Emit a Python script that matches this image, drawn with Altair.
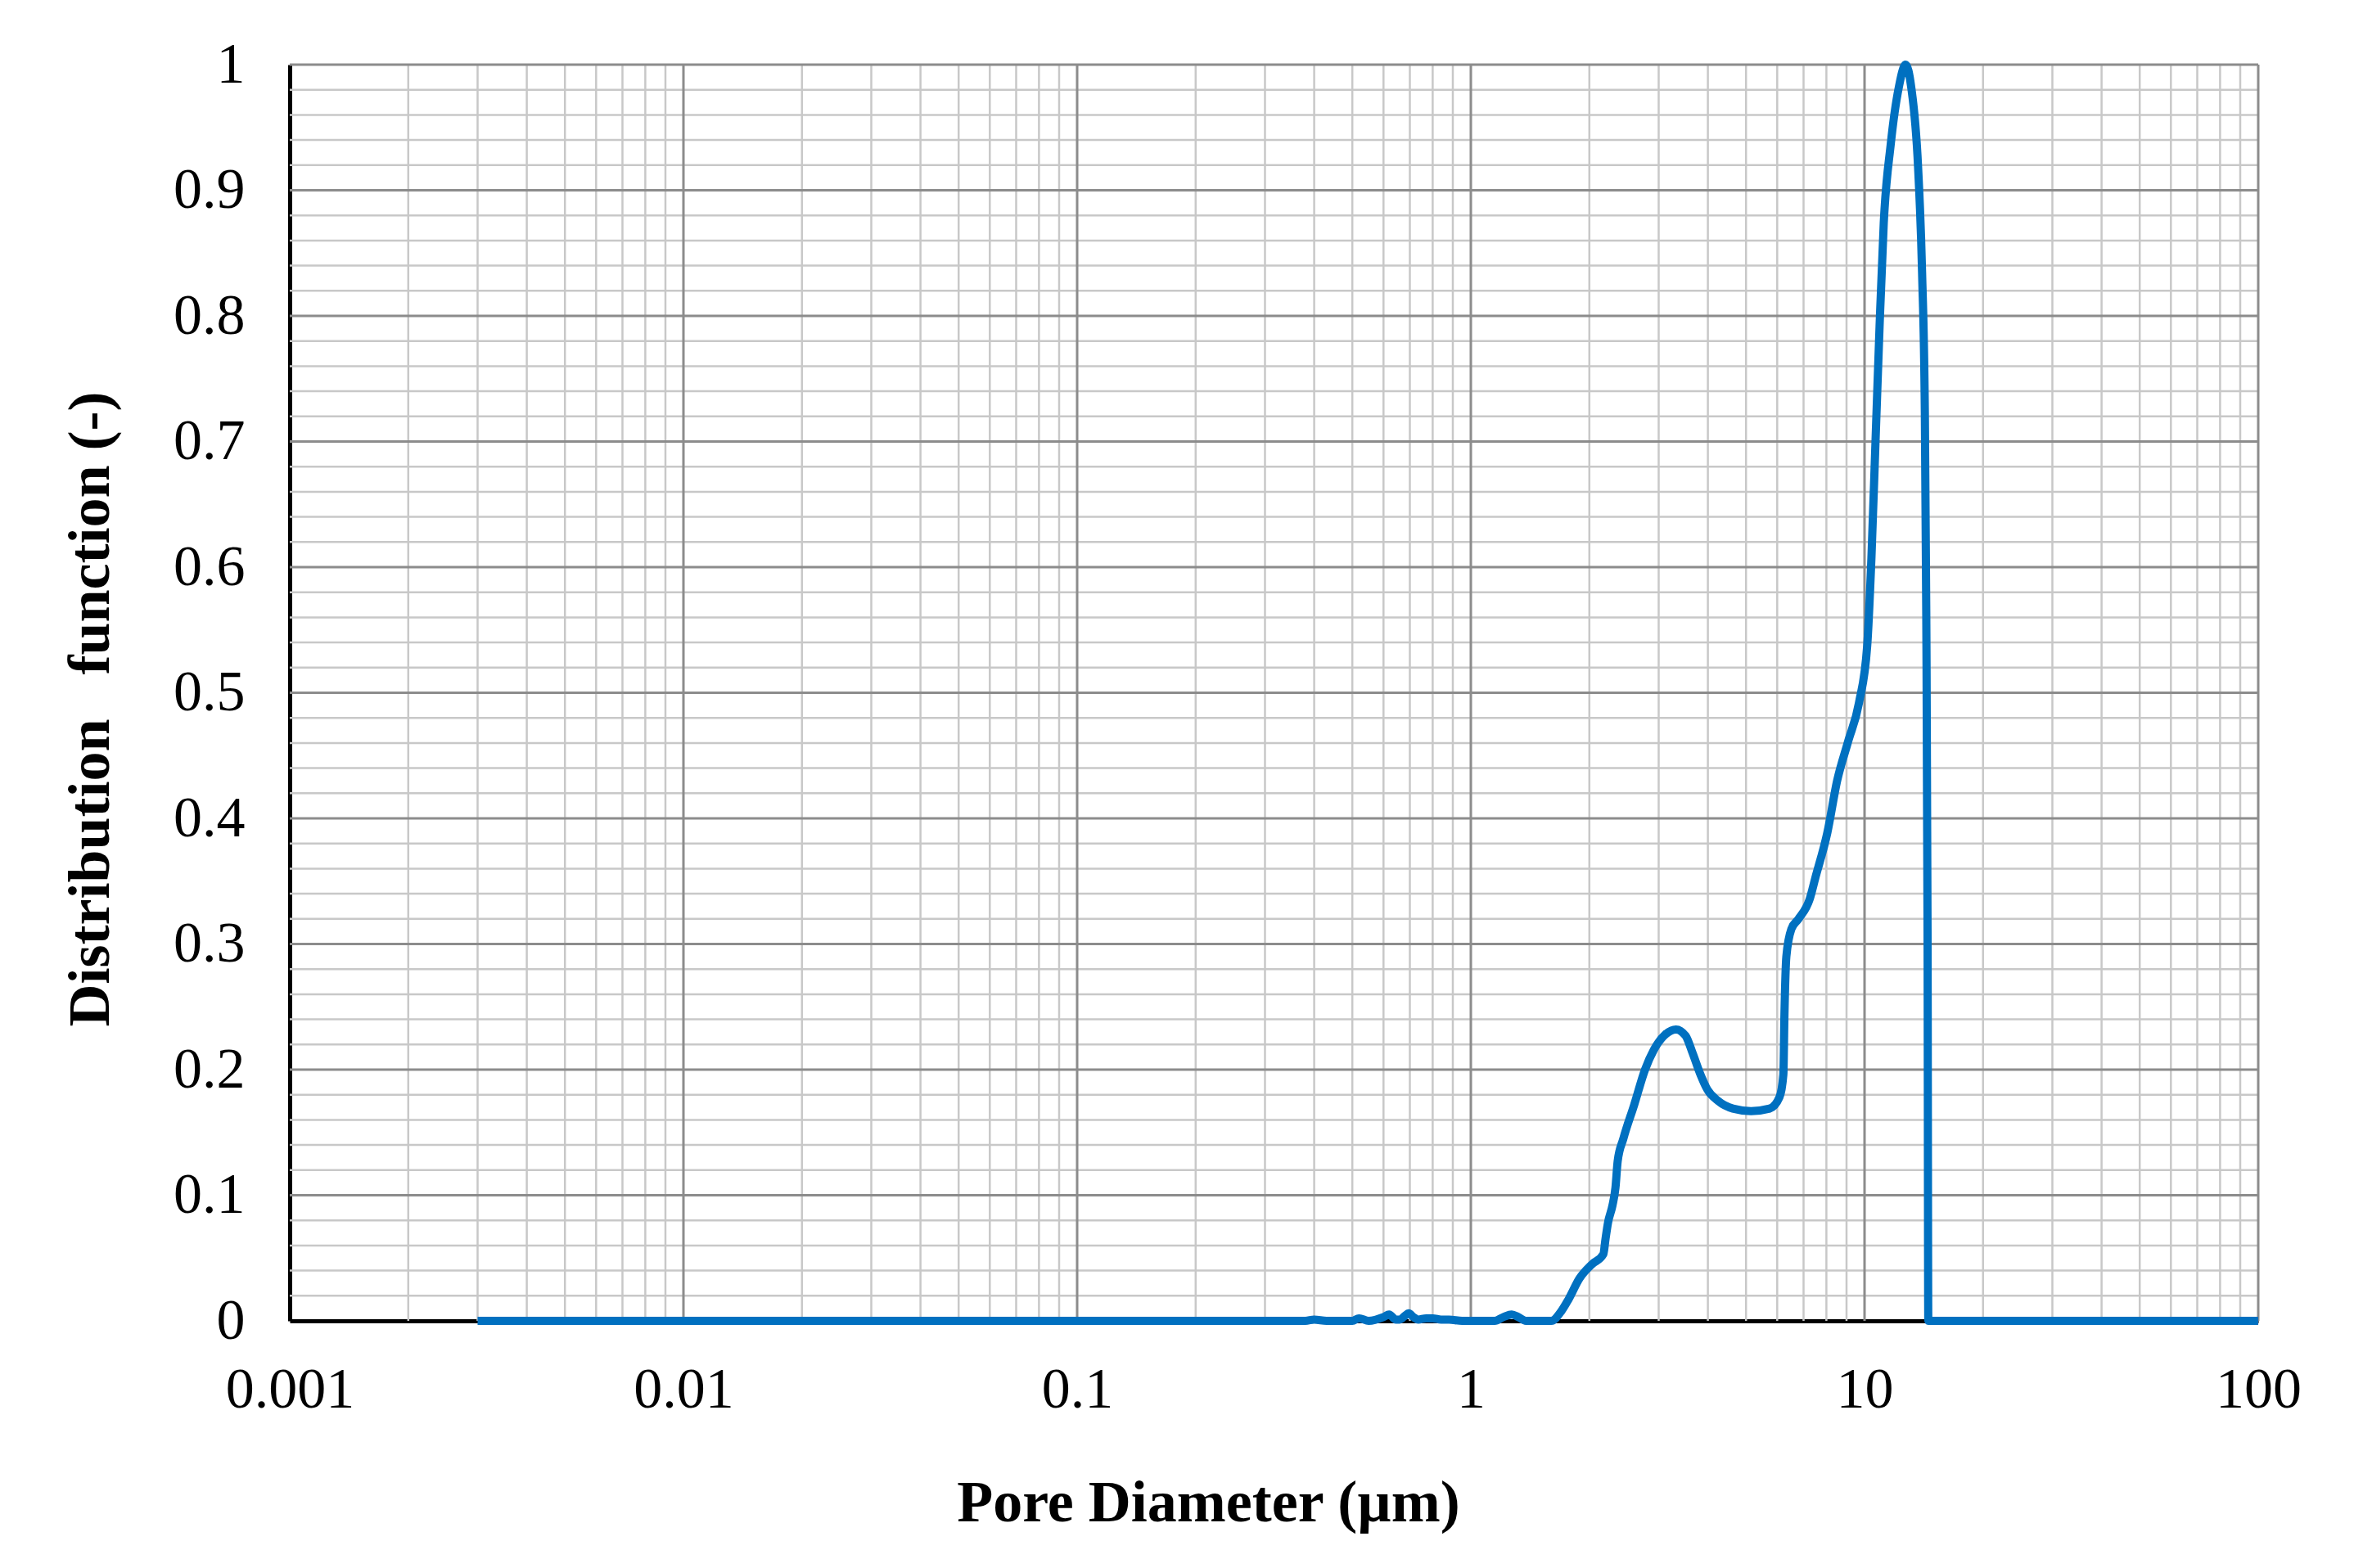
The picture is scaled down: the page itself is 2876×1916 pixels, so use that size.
import altair as alt
import pandas as pd

# ---- data ----
diameter = [0.003, 0.38, 0.40, 0.43, 0.50, 0.52, 0.55, 0.60, 0.62, 0.645, 0.66, 0.68, 0.695,
            0.715, 0.735, 0.77, 0.80, 0.84, 0.88, 0.95, 1.15, 1.21, 1.27, 1.32, 1.38, 1.60,
            1.70, 1.77, 1.89, 2.03, 2.17, 2.20, 2.23, 2.29, 2.33, 2.36, 2.44, 2.60, 2.77,
            2.92, 3.12, 3.32, 3.51, 3.66, 3.82, 3.99, 4.25, 4.63, 5.15, 5.74, 6.08, 6.22,
            6.26, 6.33, 6.52, 6.80, 7.26, 7.49, 8.05, 8.52, 9.08, 9.68, 10.16, 10.41, 10.66,
            10.92, 11.19, 11.65, 12.22, 12.72, 13.14, 13.68, 14.0, 14.23, 14.35, 14.46,
            14.52, 100]
distribution = [0, 0, 0.001, 0, 0, 0.002, 0, 0.003, 0.005, 0.001, 0.001, 0.004, 0.006,
                0.003, 0.001, 0.002, 0.002, 0.001, 0.001, 0, 0, 0.003, 0.005, 0.003, 0, 0,
                0.008, 0.017, 0.034, 0.045, 0.053, 0.066, 0.078, 0.092, 0.106, 0.127, 0.145,
                0.172, 0.200, 0.216, 0.228, 0.232, 0.227, 0.213, 0.197, 0.184, 0.175, 0.169,
                0.167, 0.169, 0.178, 0.196, 0.244, 0.290, 0.312, 0.320, 0.336, 0.352, 0.389,
                0.430, 0.461, 0.492, 0.538, 0.607, 0.699, 0.792, 0.874, 0.936, 0.982, 1.0,
                0.982, 0.918, 0.835, 0.722, 0.561, 0.30, 0, 0]

x_ticks = [0.001, 0.01, 0.1, 1, 10, 100]
x_major_grid = [0.01, 0.1, 1, 10, 100]
x_minor_grid = [round(k * 10 ** e, 6) for e in range(-3, 2) for k in range(2, 10)]
y_ticks = [round(0.1 * i, 1) for i in range(0, 11)]
y_major_grid = [round(0.1 * i, 1) for i in range(1, 11)]
y_minor_grid = [round(0.02 * i, 2) for i in range(1, 50) if i % 5 != 0]

FONT = "Liberation Serif"
xscale = alt.Scale(type="log", domain=[0.001, 100], nice=False)
yscale = alt.Scale(domain=[0, 1], nice=False, zero=True)

xaxis = alt.Axis(
    values=x_ticks, format="~g", title="Pore Diameter (µm)", grid=False, ticks=False,
    domainColor="black", domainWidth=5, labelFont=FONT, labelFontSize=70,
    labelColor="black", labelPadding=50, labelFlush=False, labelOverlap=False,
    titleFont=FONT, titleFontSize=72, titleFontWeight="bold", titleColor="black",
    titleX=1122, titleY=222, titleAlign="center", titleBaseline="middle")
yaxis = alt.Axis(
    values=y_ticks, format="~g", title="Distribution\u00a0\u00a0\u00a0function (-)",
    grid=False, ticks=False, domainColor="black", domainWidth=5, labelFont=FONT,
    labelFontSize=70, labelColor="black", labelPadding=55, labelOverlap=False,
    labelFlush=False, titleFont=FONT, titleFontSize=72, titleFontWeight="bold",
    titleColor="black", titleX=-244, titleY=787, titleAngle=270, titleAlign="center",
    titleBaseline="middle")

X = alt.X("x:Q", scale=xscale, axis=xaxis)
Y = alt.Y("y:Q", scale=yscale, axis=yaxis)

minor_v = alt.Chart(pd.DataFrame({"x": x_minor_grid})).mark_rule(
    color="#c8c8c8", strokeWidth=2.5).encode(x=X)
minor_h = alt.Chart(pd.DataFrame({"y": y_minor_grid})).mark_rule(
    color="#c8c8c8", strokeWidth=2.5).encode(y=Y)
major_v = alt.Chart(pd.DataFrame({"x": x_major_grid})).mark_rule(
    color="#8c8c8c", strokeWidth=3).encode(x=X)
major_h = alt.Chart(pd.DataFrame({"y": y_major_grid})).mark_rule(
    color="#8c8c8c", strokeWidth=3).encode(y=Y)

line = alt.Chart(pd.DataFrame({"x": diameter, "y": distribution})).mark_line(
    color="#0070C0", strokeWidth=10, interpolate="monotone").encode(x=X, y=Y)

chart = alt.layer(minor_v, minor_h, major_v, major_h, line).properties(
    width=2405, height=1535,
    padding={"left": 346, "top": 71, "right": 100, "bottom": 280},
    autosize=alt.AutoSizeParams(type="none"),
).configure_view(stroke=None).configure(background="white")

chart.save("out.html", embed_options={"renderer": "svg", "actions": False})
